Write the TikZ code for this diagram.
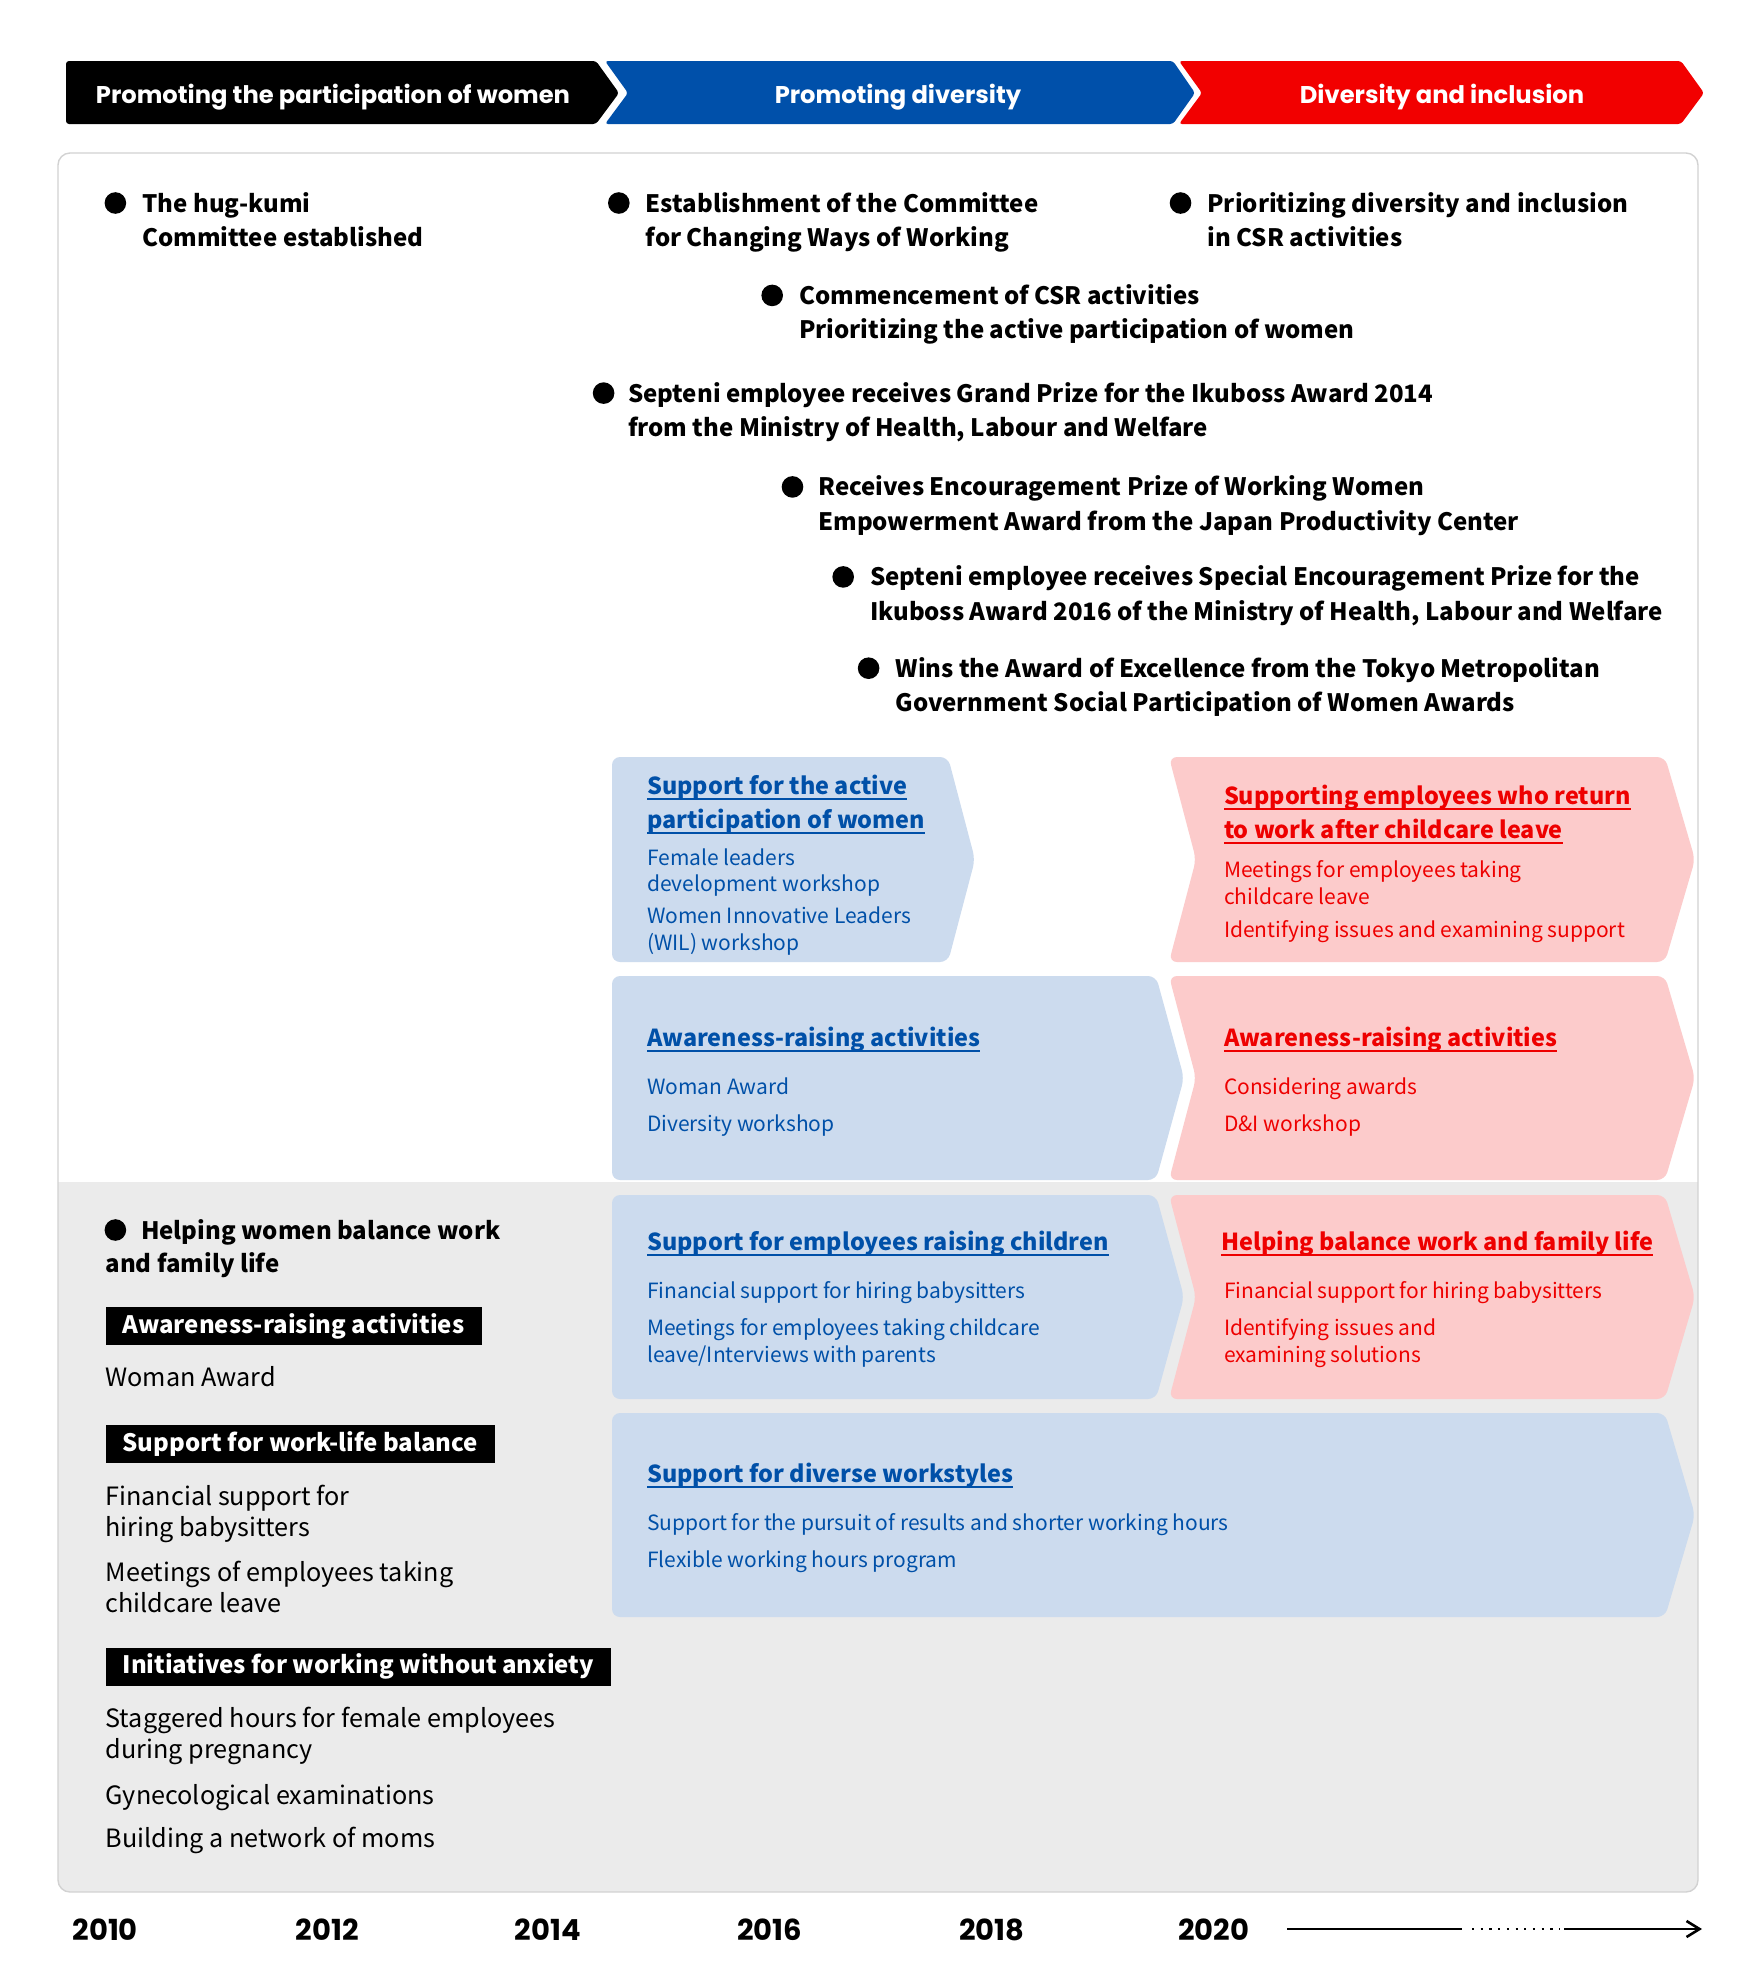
\documentclass[tikz,border=0pt]{standalone}
\usepackage{fontspec}
\setmainfont{Noto Sans CJK JP}
\newfontfamily\popfont{Poppins}
\usetikzlibrary{arrows.meta}
\definecolor{hblue}{HTML}{0050AA}
\definecolor{hred}{HTML}{F20000}
\definecolor{lblue}{HTML}{CCDBEE}
\definecolor{lred}{HTML}{FCCBCB}
\definecolor{gbg}{HTML}{EBEBEB}
\definecolor{pborder}{HTML}{D2D2D2}
\definecolor{btext}{HTML}{0050A8}
\definecolor{rtext}{HTML}{EE0000}
\newsavebox\ulbox
\newcommand\ulx[1]{\sbox\ulbox{#1}\rlap{\rule[-0.24em]{\wd\ulbox}{0.07em}}\usebox\ulbox}
\newcommand\tl[1]{\begin{tabular}[t]{@{}l@{}}#1\end{tabular}}
\newcommand\fbig{\fontsize{12}{17.1}\selectfont}
\newcommand\fttl{\fontsize{11.7}{17.1}\selectfont}
\newcommand\fleft{\fontsize{12.6}{15.6}\selectfont}
\newcommand\fsmall{\fontsize{10.5}{13.3}\selectfont}
\newcommand\chev[7]{\fill[#1] (#2,#3) -- (#4,#3) -- (#6,{(#3+#5)/2}) -- (#4,#5) -- (#2,#5) -- (#7,{(#3+#5)/2}) -- cycle;}
\tikzset{
  basen/.style={inner sep=0pt, anchor=base west},
  bul/.style={basen, font=\fbig\bfseries},
  dotn/.style={circle, fill=black, inner sep=0pt, minimum size=10.8pt},
  ttl/.style={basen, font=\fttl\bfseries},
  itm/.style={basen, font=\fsmall},
  lft/.style={basen, font=\fleft},
  lbl/.style={fill=black, text=white, font=\fbig\bfseries, inner xsep=8.5pt, inner ysep=0pt, minimum height=19pt, anchor=west},
  hdr/.style={text=white, font=\popfont\bfseries\fontsize{12.1}{14}\selectfont, anchor=base, inner sep=0pt},
  yr/.style={font=\popfont\bfseries\fontsize{14.5}{16}\selectfont, anchor=base, inner sep=0pt},
  bluebox/.style={fill=lblue, rounded corners=4pt},
  redbox/.style={fill=lred, rounded corners=4pt},
  hshape/.style={rounded corners=1.5pt},
  tline/.style={line width=1.3pt},
}
\begin{document}
\begin{tikzpicture}[x=0.5pt, y=-0.5pt]
\useasboundingbox (0,0) rectangle (1760,1988);
\fill[white] (0,0) rectangle (1760,1988);
% header
\fill[black, hshape] (66,61) -- (596,61) -- (619,93) -- (596,124) -- (66,124) -- cycle;
\fill[hblue, hshape] (605,61) -- (1173,61) -- (1195,93) -- (1173,124) -- (605,124) -- (628,93) -- cycle;
\fill[hred, hshape] (1179,61) -- (1681,61) -- (1704,93) -- (1681,124) -- (1179,124) -- (1202,93) -- cycle;
\node[hdr] (h1) at (333,103) {Promoting the participation of women};
\node[hdr] (h2) at (898,103) {Promoting diversity};
\node[hdr] (h3) at (1442,103) {Diversity and inclusion};
% panel
\begin{scope}
\clip[rounded corners=6pt] (58,153) rectangle (1698,1892);
\fill[white] (58,153) rectangle (1698,1892);
\fill[gbg] (58,1182) rectangle (1698,1892);
\end{scope}
\draw[pborder, line width=0.7pt, rounded corners=6pt] (58,153) rectangle (1698,1892);
% bullets
\node[dotn] (d1) at (115.4,203) {};
\node[bul] (b1) at (142,212) {\tl{The hug-kumi\\Committee established}};
\node[dotn] (d2) at (618.8,203) {};
\node[bul] (b2) at (645.4,212) {\tl{Establishment of the Committee\\for Changing Ways of Working}};
\node[dotn] (d3) at (1180.5,203) {};
\node[bul] (b3) at (1207.1,212) {\tl{Prioritizing diversity and inclusion\\in CSR activities}};
\node[dotn] (d4) at (772.2,295.4) {};
\node[bul] (b4) at (798.8,304.4) {\tl{Commencement of CSR activities\\Prioritizing the active participation of women}};
\node[dotn] (d5) at (603.6,393.1) {};
\node[bul] (b5) at (627.7,402.1) {\tl{Septeni employee receives Grand Prize for the Ikuboss Award 2014\\from the Ministry of Health, Labour and Welfare}};
\node[dotn] (d6) at (792.5,486.9) {};
\node[bul] (b6) at (817.9,495.9) {\tl{Receives Encouragement Prize of Working Women\\Empowerment Award from the Japan Productivity Center}};
\node[dotn] (d7) at (843.2,576.9) {};
\node[bul] (b7) at (869.8,585.9) {\tl{Septeni employee receives Special Encouragement Prize for the\\Ikuboss Award 2016 of the Ministry of Health, Labour and Welfare}};
\node[dotn] (d8) at (868.6,668.2) {};
\node[bul] (b8) at (895.2,677.2) {\tl{Wins the Award of Excellence from the Tokyo Metropolitan\\Government Social Participation of Women Awards}};
% chevron boxes
\chev{bluebox}{612}{757}{948}{962}{975}{612}
\chev{redbox}{1169}{757}{1665}{962}{1695}{1196}
\chev{bluebox}{612}{976}{1156}{1180}{1184}{612}
\chev{redbox}{1169}{976}{1665}{1180}{1695}{1196}
\chev{bluebox}{612}{1195}{1156}{1399}{1184}{612}
\chev{redbox}{1169}{1195}{1665}{1399}{1695}{1196}
\chev{bluebox}{612}{1413}{1665}{1617}{1695}{612}
% blue A
\node[ttl, text=btext] (ta) at (646.7,794) {\tl{\ulx{Support for the active}\\\ulx{participation of women}}};
\node[itm, text=btext] (ia) at (646.7,865.2) {\tl{Female leaders\\development workshop\\[2.5pt]Women Innovative Leaders\\(WIL) workshop}};
% red A
\node[ttl, text=rtext] (tra) at (1223.6,804) {\tl{\ulx{Supporting employees who return}\\\ulx{to work after childcare leave}}};
\node[itm, text=rtext] (ira) at (1223.6,877.8) {\tl{Meetings for employees taking\\childcare leave\\[3pt]Identifying issues and examining support}};
% blue B
\node[ttl, text=btext] (tb) at (646.7,1046.2) {\ulx{Awareness-raising activities}};
\node[itm, text=btext] (ib) at (646.7,1094.7) {\tl{Woman Award\\[5pt]Diversity workshop}};
% red B
\node[ttl, text=rtext] (trb) at (1223.6,1046.2) {\ulx{Awareness-raising activities}};
\node[itm, text=rtext] (irb) at (1223.6,1094.7) {\tl{Considering awards\\[5pt]D\&I workshop}};
% blue C
\node[ttl, text=btext] (tc) at (646.7,1250.4) {\ulx{Support for employees raising children}};
\node[itm, text=btext] (ic) at (646.7,1298.8) {\tl{Financial support for hiring babysitters\\[5pt]Meetings for employees taking childcare\\leave/Interviews with parents}};
% red C
\node[ttl, text=rtext] (trc) at (1221,1250.4) {\ulx{Helping balance work and family life}};
\node[itm, text=rtext] (irc) at (1223.6,1298.8) {\tl{Financial support for hiring babysitters\\[5pt]Identifying issues and\\examining solutions}};
% blue D
\node[ttl, text=btext] (td) at (646.7,1482.4) {\ulx{Support for diverse workstyles}};
\node[itm, text=btext] (id) at (646.7,1530.9) {\tl{Support for the pursuit of results and shorter working hours\\[5pt]Flexible working hours program}};
% left column
\node[dotn] (d9) at (115.4,1230) {};
\node[bul] (b9a) at (140.7,1239) {Helping women balance work};
\node[bul] (b9b) at (105.2,1272) {and family life};
\node[lbl] (l1) at (105.2,1326.3) {Awareness-raising activities};
\node[lft] (t1) at (105.2,1386) {Woman Award};
\node[lbl] (l2) at (105.2,1444.3) {Support for work-life balance};
\node[lft] (t2) at (105.2,1505.2) {\tl{Financial support for\\hiring babysitters\\[7pt]Meetings of employees taking\\childcare leave}};
\node[lbl] (l3) at (105.2,1666.8) {Initiatives for working without anxiety};
\node[lft] (t3) at (105.2,1727.1) {\tl{Staggered hours for female employees\\during pregnancy\\[7.7pt]Gynecological examinations\\[5.9pt]Building a network of moms}};
% years
\node[yr] (y1) at (105.2,1940) {2010};
\node[yr] (y2) at (327.1,1940) {2012};
\node[yr] (y3) at (547.8,1940) {2014};
\node[yr] (y4) at (769.7,1940) {2016};
\node[yr] (y5) at (991.6,1940) {2018};
\node[yr] (y6) at (1213.5,1940) {2020};
\coordinate (a1) at (1287,1929);
\coordinate (a2) at (1462,1929);
\coordinate (a3) at (1472,1929);
\coordinate (a4) at (1560,1929);
\coordinate (a5) at (1564,1929);
\coordinate (a6) at (1702,1929);
\draw[tline] (a1) -- (a2);
\draw[line width=1.2pt, dash pattern=on 1.1pt off 3.25pt] (a3) -- (a4);
\draw[tline, -{Straight Barb[length=6.5pt,width=8pt]}] (a5) -- (a6);
\end{tikzpicture}
\end{document}
